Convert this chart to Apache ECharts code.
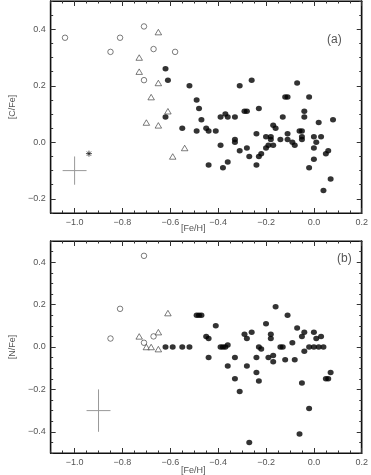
<!DOCTYPE html>
<html>
<head>
<meta charset="utf-8">
<script src="https://cdn.jsdelivr.net/npm/echarts@6/dist/echarts.min.js"></script>
<style>
    html, body { margin: 0; padding: 0; background: #fff; }
    #chart { width: 371px; height: 475px; }
</style>
</head>
<body>
<div id="chart"></div>
<script>
    // tick labels
    const xMajor = [-1.0, -0.8, -0.6, -0.4, -0.2, 0.0, 0.2];
    const cMajor = [-0.2, 0.0, 0.2, 0.4];
    const nMajor = [-0.4, -0.2, 0.0, 0.2, 0.4];

    // panel (a): [C/Fe]
    const cOpenFe = [-1.04, -0.81, -0.71, -0.85, -0.67, -0.58, -0.71];
    const cOpenC  = [0.37, 0.37, 0.41, 0.32, 0.33, 0.32, 0.22];
    const cTriFe  = [-0.65, -0.73, -0.73, -0.65, -0.68, -0.61, -0.70, -0.65, -0.54, -0.59];
    const cTriC   = [0.39, 0.30, 0.25, 0.21, 0.16, 0.11, 0.07, 0.06, -0.02, -0.05];
    const cStarFe = [-0.94];
    const cStarC  = [-0.04];
    const cDotFe = [-0.62, -0.61, -0.52, -0.62, -0.55, -0.49, -0.48, -0.47, -0.49, -0.45, -0.44, -0.41, -0.44,
        -0.39, -0.37, -0.36, -0.33, -0.39, -0.38, -0.36, -0.33, -0.33, -0.31, -0.31, -0.28, -0.29, -0.28, -0.26, -0.27,
        -0.23, -0.24, -0.24, -0.23, -0.22, -0.20, -0.20, -0.19, -0.18, -0.18, -0.17, -0.16, -0.17,
        -0.14, -0.13, -0.12, -0.11, -0.11, -0.11, -0.09, -0.08, -0.07, -0.06, -0.05, -0.05, -0.05, -0.04, -0.04, -0.02, -0.02,
        0.00, 0.00, 0.00, 0.01, 0.02, 0.03, 0.05, 0.06, 0.08, 0.07, 0.04];
    const cDotC = [0.26, 0.22, 0.20, 0.09, 0.05, 0.15, 0.12, 0.08, 0.04, 0.05, 0.04, 0.04, -0.08,
        0.09, 0.10, 0.09, 0.09, -0.01, -0.09, -0.07, 0.01, 0.00, 0.20, -0.03, -0.02, 0.11, 0.11, 0.22, -0.05,
        0.12, 0.03, -0.08, -0.05, -0.04, 0.02, -0.02, -0.01, 0.02, 0.01, 0.06, 0.05, -0.01,
        0.01, 0.09, 0.16, 0.16, 0.03, 0.01, 0.00, -0.01, 0.21, 0.04, 0.04, 0.02, 0.01, 0.11, 0.09, 0.16, -0.09,
        0.02, -0.02, -0.06, 0.00, 0.07, 0.02, -0.04, -0.03, 0.08, -0.13, -0.17];
    const cErr = [-1.0, -0.10, 0.05, 0.05];

    // panel (b): [N/Fe]
    const nOpenFe = [-0.71, -0.81, -0.85, -0.67, -0.71];
    const nOpenN  = [0.43, 0.18, 0.04, 0.05, 0.02];
    const nTriFe  = [-0.61, -0.73, -0.65, -0.70, -0.68, -0.65];
    const nTriN   = [0.16, 0.05, 0.07, 0.00, 0.00, -0.01];
    const nDotFe = [-0.62, -0.59, -0.55, -0.52, -0.49, -0.48, -0.47, -0.45, -0.44, -0.44, -0.41,
        -0.39, -0.38, -0.37, -0.36, -0.36, -0.33, -0.33, -0.31, -0.29, -0.28, -0.26, -0.28, -0.27,
        -0.24, -0.24, -0.23, -0.23, -0.22, -0.20, -0.19, -0.18, -0.18, -0.17, -0.17, -0.16,
        -0.14, -0.13, -0.12, -0.11, -0.09, -0.08, -0.07, -0.06, -0.05, -0.05, -0.04, -0.04,
        -0.02, 0.00, 0.02, 0.04, -0.02, 0.00, 0.01, 0.03, 0.05, 0.06, 0.07];
    const nDotN = [0.00, 0.00, 0.00, 0.00, 0.15, 0.15, 0.15, 0.05, 0.04, -0.05, 0.10,
        0.00, 0.00, 0.00, 0.01, -0.09, -0.05, -0.15, -0.21, 0.06, 0.04, 0.07, -0.09, -0.45,
        -0.05, -0.12, -0.16, 0.00, -0.01, 0.11, -0.05, 0.06, 0.04, -0.04, -0.07, 0.19,
        0.00, 0.00, -0.06, 0.15, 0.02, -0.06, 0.09, -0.41, 0.05, -0.17, 0.07, -0.02,
        0.00, 0.00, 0.00, 0.00, -0.29, 0.07, 0.04, 0.05, -0.15, -0.15, -0.12];
    const nErr = [-0.90, -0.30, 0.05, 0.10];

    function zip(a, b) {
        return a.map((v, i) => [v, b[i]]);
    }

    function minorTicks(min, max) {
        let out = [];
        for (let i = Math.round(min / 0.05); i <= Math.round(max / 0.05); i++) {
            out.push(+(i * 0.05).toFixed(2));
        }
        return out;
    }

    function fmt(v) {
        return (v < -1e-9 ? '\u2212' : '') + Math.abs(v).toFixed(1);
    }

    const textColor = '#555';
    const font = 'Liberation Sans';

    function frameAxis(grid, pos, min, max, ticks, len, labels, name, gap) {
        return {
            type: 'value', gridIndex: grid, position: pos, min: min, max: max,
            axisLine: {show: true, onZero: false, lineStyle: {color: '#111', width: 1.2}},
            axisTick: {show: true, inside: true, length: len, customValues: ticks, lineStyle: {color: '#333', width: 1}},
            axisLabel: {show: labels, customValues: ticks, formatter: fmt, color: textColor, fontSize: 9,
                fontFamily: font, margin: 5},
            splitLine: {show: false},
            name: name || '', nameLocation: 'middle', nameGap: gap || 0,
            nameTextStyle: {color: textColor, fontSize: 9, fontFamily: font}
        };
    }

    function panelXAxes(grid) {
        const xMinor = minorTicks(-1.1, 0.2);
        return [
            frameAxis(grid, 'bottom', -1.1, 0.2, xMajor, 5, true),
            frameAxis(grid, 'bottom', -1.1, 0.2, xMinor, 2.5, false),
            frameAxis(grid, 'top', -1.1, 0.2, xMajor, 5, false),
            frameAxis(grid, 'top', -1.1, 0.2, xMinor, 2.5, false)
        ];
    }

    function panelYAxes(grid, min, max, major, name) {
        const yMinor = minorTicks(min, max);
        return [
            frameAxis(grid, 'left', min, max, major, 5, true, name, 25),
            frameAxis(grid, 'left', min, max, yMinor, 2.5, false),
            frameAxis(grid, 'right', min, max, major, 5, false),
            frameAxis(grid, 'right', min, max, yMinor, 2.5, false)
        ];
    }

    function errorCross(data, xi, yi) {
        return {
            type: 'custom', xAxisIndex: xi, yAxisIndex: yi, silent: true,
            data: [data],
            renderItem: function (params, api) {
                const x = api.value(0), y = api.value(1), dx = api.value(2), dy = api.value(3);
                const l = api.coord([x - dx, y]), r = api.coord([x + dx, y]);
                const t = api.coord([x, y + dy]), b = api.coord([x, y - dy]);
                const st = {stroke: '#999', lineWidth: 1};
                return {
                    type: 'group', children: [
                        {type: 'line', shape: {x1: l[0], y1: l[1], x2: r[0], y2: r[1]}, style: st},
                        {type: 'line', shape: {x1: t[0], y1: t[1], x2: b[0], y2: b[1]}, style: st}
                    ]
                };
            }
        };
    }

    const openStyle = {color: '#fff', borderColor: '#333', borderWidth: 0.8};
    const dotStyle = {color: '#000'};

    function scatter(data, xi, yi, kind) {
        let s = {type: 'scatter', xAxisIndex: xi, yAxisIndex: yi, data: data, silent: true};
        if (kind === 'open') {
            s.symbol = 'circle'; s.symbolSize = 5.5; s.itemStyle = openStyle;
        } else if (kind === 'tri') {
            s.symbol = 'triangle'; s.symbolSize = [6.5, 5.5]; s.itemStyle = openStyle;
        } else if (kind === 'star') {
            s.symbol = 'path://M0,5L10,5M5,0L5,10M1.5,1.5L8.5,8.5M8.5,1.5L1.5,8.5';
            s.symbolSize = 6;
            s.itemStyle = {color: 'none', borderColor: '#222', borderWidth: 1};
        } else {
            s.symbol = 'circle'; s.symbolSize = [6, 5.5]; s.itemStyle = dotStyle;
        }
        return s;
    }

    function label(text, x, y, size) {
        return {type: 'text', left: x, top: y, style: {text: text, fontSize: size, fill: textColor, fontFamily: font}};
    }

    let option = {
        animation: false,
        backgroundColor: '#fff',
        grid: [
            {left: 36, right: 6, top: 1, height: 212, show: true, borderColor: '#111', borderWidth: 1.2},
            {left: 36, right: 6, top: 241, height: 212, show: true, borderColor: '#111', borderWidth: 1.2}
        ],
        xAxis: panelXAxes(0).concat(panelXAxes(1)),
        yAxis: panelYAxes(0, -0.25, 0.5, cMajor, '[C/Fe]').concat(panelYAxes(1, -0.5, 0.5, nMajor, '[N/Fe]')),
        graphic: [
            label('(a)', 327, 34, 12),
            label('(b)', 337, 253, 12),
            label('[Fe/H]', 181, 224, 9),
            label('[Fe/H]', 181, 466, 9)
        ],
        series: [
            errorCross(cErr, 0, 0),
            scatter(zip(cOpenFe, cOpenC), 0, 0, 'open'),
            scatter(zip(cTriFe, cTriC), 0, 0, 'tri'),
            scatter(zip(cStarFe, cStarC), 0, 0, 'star'),
            scatter(zip(cDotFe, cDotC), 0, 0, 'dot'),
            errorCross(nErr, 4, 4),
            scatter(zip(nOpenFe, nOpenN), 4, 4, 'open'),
            scatter(zip(nTriFe, nTriN), 4, 4, 'tri'),
            scatter(zip(nDotFe, nDotN), 4, 4, 'dot')
        ]
    };

    let chart = echarts.init(document.getElementById('chart'), null, {renderer: 'canvas'});
    chart.setOption(option);
</script>
</body>
</html>
